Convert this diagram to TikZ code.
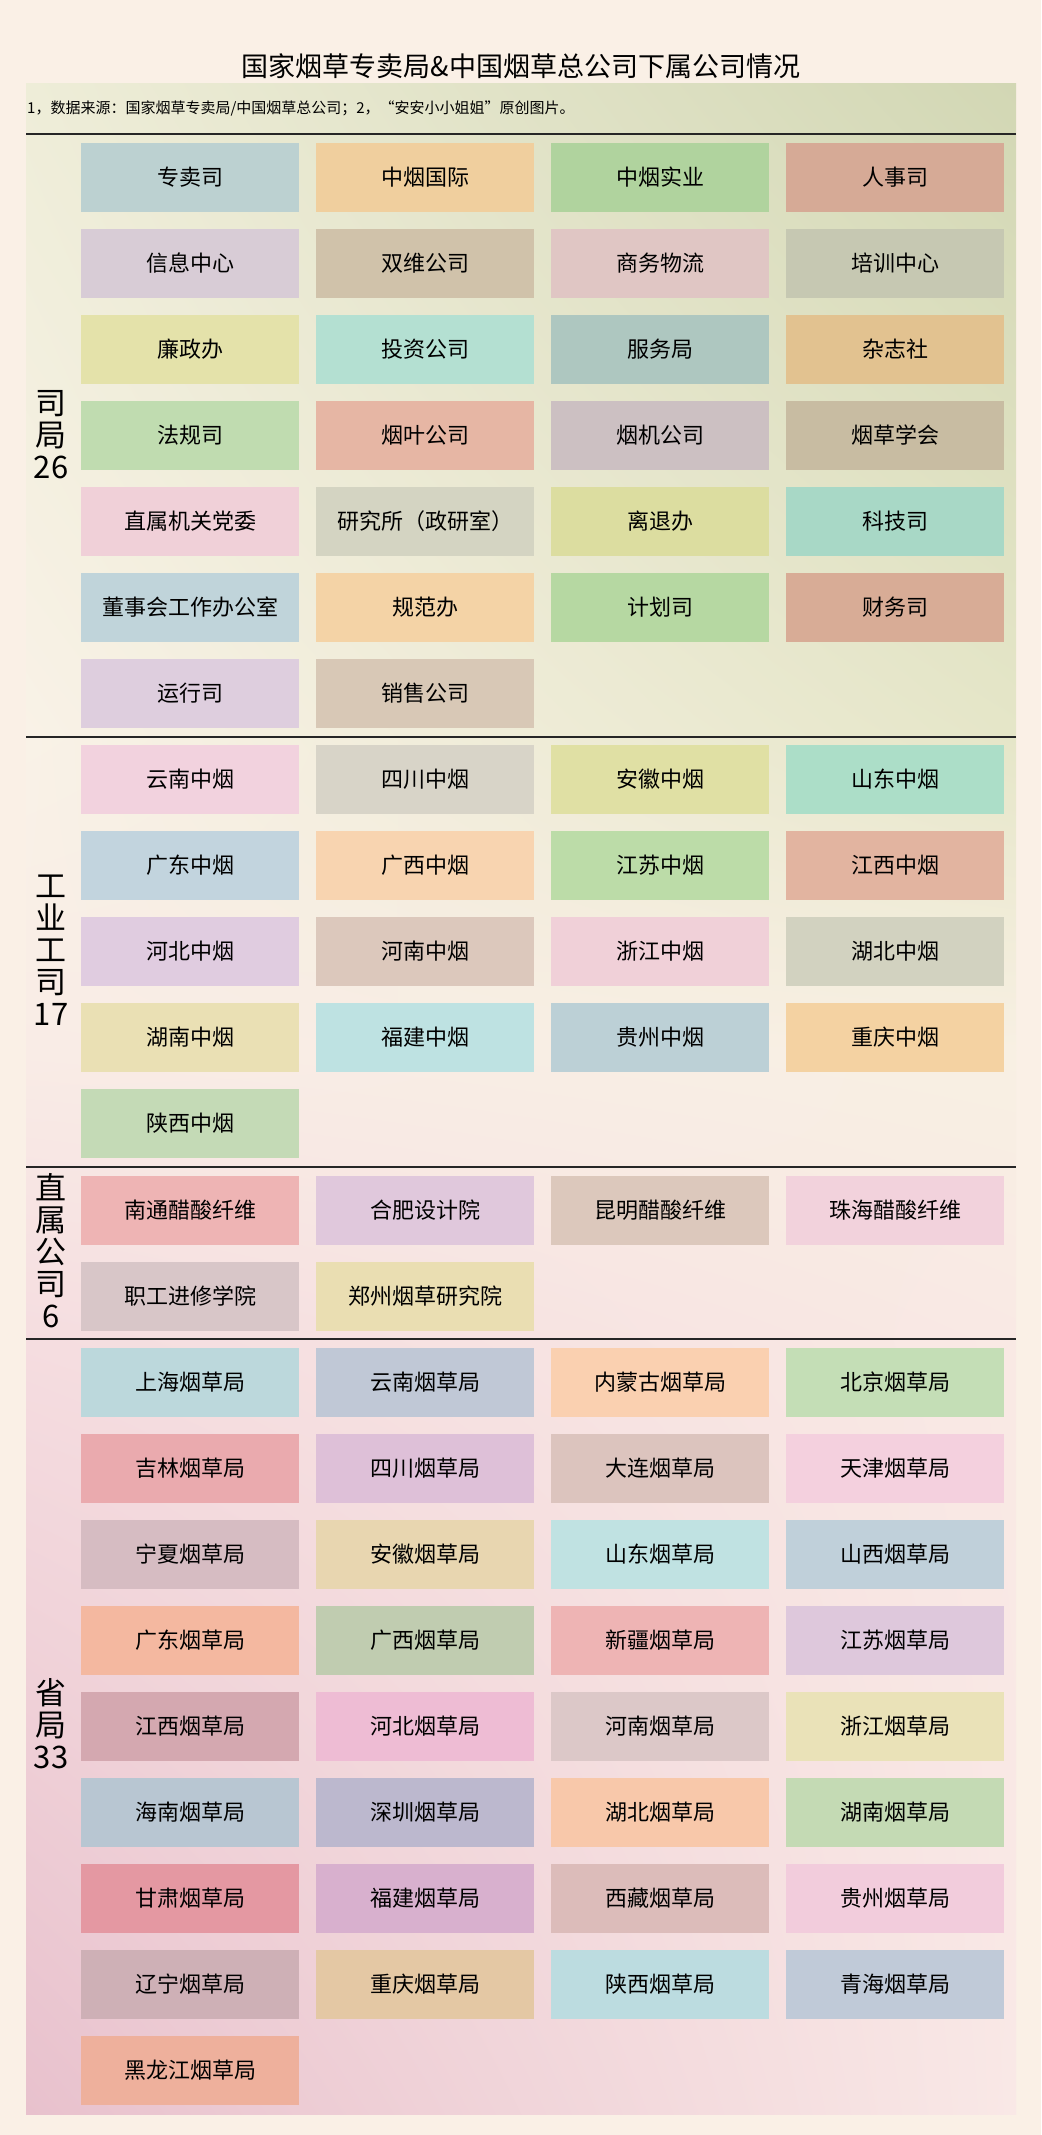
\documentclass[tikz,border=0pt]{standalone}
\usepackage{fontspec}
\setmainfont{Noto Sans CJK SC}
\usetikzlibrary{shadings}
\definecolor{pagebg}{HTML}{FAF0E6}
\definecolor{gA1}{HTML}{EEEDD8}
\definecolor{gA2}{HTML}{D2D7B4}
\definecolor{gA3}{HTML}{F9F2E7}
\definecolor{gA4}{HTML}{E5E6C8}
\definecolor{gB3}{HTML}{F9ECE6}
\definecolor{gB4}{HTML}{F8F0E3}
\definecolor{gC1}{HTML}{F5DDE0}
\definecolor{gC2}{HTML}{F9E9E4}
\definecolor{gD3}{HTML}{E8C1CD}
\definecolor{gD4}{HTML}{F9E8E6}
\newcommand\boxgrid[3]{%
  \foreach \nm/\cl [count=\i from 0] in {#3} {
    \pgfmathtruncatemacro\cc{mod(\i,4)}
    \pgfmathtruncatemacro\rr{floor(\i/4)}
    \definecolor{bx}{HTML}{\cl}
    \node[cell, fill=bx] (#1\i) at ({190+235*\cc},{#2+34.35+86*\rr}) {\nm};
  }%
}
\begin{document}
\begin{tikzpicture}[x=1pt,y=-1pt,
  cell/.style={minimum width=218pt, minimum height=68.7pt, inner sep=0pt,
    font=\fontsize{22}{24}\selectfont, text=black},
  sepline/.style={line width=1.5pt, draw=black!85},
  lab/.style={align=center, inner sep=0pt, font=\fontsize{31}{32}\selectfont, text=black}]
\fill[pagebg] (0,0) rectangle (1041,2135);
\useasboundingbox (0,0) rectangle (1041,2135);
% panel gradient bands
\shade[upper left=gA1, upper right=gA2, lower left=gA3, lower right=gA4] (26,84) rectangle (1016,737);
\shade[upper left=gA3, upper right=gA4, lower left=gB3, lower right=gB4] (26,737) rectangle (1016,1050);
\shade[upper left=gB3, upper right=gB4, lower left=gC1, lower right=gC2] (26,1050) rectangle (1016,1339);
\shade[upper left=gC1, upper right=gC2, lower left=gD3, lower right=gD4] (26,1339) rectangle (1016,2114);
% title and note
\node[font=\fontsize{27}{30}\selectfont, text=black] (title) at (521,66) {国家烟草专卖局\&中国烟草总公司下属公司情况};
\node[anchor=west, inner sep=0pt, font=\fontsize{15}{18}\selectfont, text=black] (note) at (27,108) {1，数据来源：国家烟草专卖局/中国烟草总公司；2，“安安小小姐姐”原创图片。};
% separators
\draw[sepline] (26,134) -- (1016,134);
\draw[sepline] (26,737) -- (1016,737);
\draw[sepline] (26,1167) -- (1016,1167);
\draw[sepline] (26,1339) -- (1016,1339);
% section labels
\node[lab] (lab1) at (51,435) {司\\局\\26};
\node[lab] (lab2) at (51,950) {工\\业\\工\\司\\17};
\node[lab] (lab3) at (51,1251) {直\\属\\公\\司\\6};
\node[lab] (lab4) at (51,1724) {省\\局\\33};
% boxes
\boxgrid{sj}{143}{专卖司/BCD1D1,中烟国际/F0CF9E,中烟实业/B0D39E,人事司/D6AA96,
信息中心/D8CCD6,双维公司/D0C2AA,商务物流/E0C6C4,培训中心/C6C8B2,
廉政办/E4E2AA,投资公司/B4E0D2,服务局/AEC7C0,杂志社/E2C290,
法规司/C0DCB0,烟叶公司/E6B6A4,烟机公司/CCC0C2,烟草学会/C8BCA2,
直属机关党委/F0D0D8,研究所（政研室）/D4D4C2,离退办/DCDDA0,科技司/A8D8C6,
董事会工作办公室/C0D4DA,规范办/F4D3A6,计划司/B6D8A2,财务司/D8AC96,
运行司/DECEDE,销售公司/D8C8B6}
\boxgrid{gy}{745}{云南中烟/F2D2DE,四川中烟/D8D4C8,安徽中烟/E0E0A4,山东中烟/ACDEC8,
广东中烟/C2D4DE,广西中烟/F8D4B0,江苏中烟/BCDCA8,江西中烟/E2B4A0,
河北中烟/E0CCE0,河南中烟/DCC8BC,浙江中烟/F0D0D8,湖北中烟/D2D2C0,
湖南中烟/EAE0B4,福建中烟/BEE2E2,贵州中烟/BCD0D6,重庆中烟/F4D2A2,
陕西中烟/C4DAB6}
\boxgrid{zs}{1176}{南通醋酸纤维/EEB4B4,合肥设计院/E0C8DC,昆明醋酸纤维/DCC8BC,珠海醋酸纤维/F2D2DC,
职工进修学院/D8C6C8,郑州烟草研究院/EADEB2}
\boxgrid{sp}{1348}{上海烟草局/BCD8DC,云南烟草局/C0C8D6,内蒙古烟草局/FAD0B0,北京烟草局/C4DEB6,
吉林烟草局/EAAAAE,四川烟草局/DEC0D8,大连烟草局/DCC4BE,天津烟草局/F4D0DE,
宁夏烟草局/D6BCC2,安徽烟草局/E8D6B0,山东烟草局/C0E2E2,山西烟草局/C0D0DA,
广东烟草局/F4B8A0,广西烟草局/C0CCB0,新疆烟草局/EEB4B4,江苏烟草局/DEC8DC,
江西烟草局/D4A8B0,河北烟草局/EEBCD4,河南烟草局/DCC8C8,浙江烟草局/EAE2B8,
海南烟草局/B8C6D2,深圳烟草局/BCB8CE,湖北烟草局/F8C8AA,湖南烟草局/C4DAB4,
甘肃烟草局/E498A2,福建烟草局/D8B0CE,西藏烟草局/DCBCBA,贵州烟草局/F2CCDC,
辽宁烟草局/CEB0B6,重庆烟草局/E4C8A4,陕西烟草局/BCDCE0,青海烟草局/C0CAD8,
黑龙江烟草局/EEB09C}
\end{tikzpicture}
\end{document}
